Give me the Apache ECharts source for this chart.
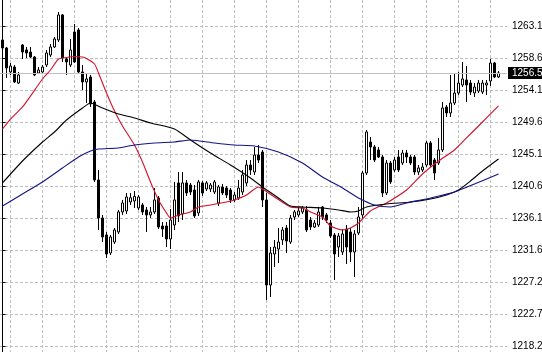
<!DOCTYPE html>
<html>
<head>
<meta charset="utf-8">
<script src="https://cdn.jsdelivr.net/npm/echarts@6/dist/echarts.min.js"></script>
<style>
html,body{margin:0;padding:0;background:#fff;}
#main{width:542px;height:352px;}
</style>
</head>
<body>
<div id="main"></div>
<script>
// right price scale
var priceTicks = [1218.20, 1222.70, 1227.20, 1231.60, 1236.10, 1240.60, 1245.10, 1249.60, 1254.10, 1258.60, 1263.10];
// bar numbers where the vertical grid lines fall
var timeTicks = [2, 10, 18, 26, 34, 42, 50, 58, 66, 74, 82, 90, 98, 106, 114, 122];

// candles, oldest first
var opens = [1261.14,1260.02,1256.65,1257.35,1255.10,1260.44,1259.74,1259.45,1258.75,1256.51,
1256.65,1257.63,1259.03,1260.16,1261.14,1264.65,1258.47,1257.63,1262.26,1262.54,
1256.65,1255.25,1255.95,1252.44,1241.50,1236.16,1233.78,1231.25,1232.79,1234.20,
1237.01,1237.15,1238.41,1238.55,1237.57,1237.99,1237.29,1236.59,1237.01,1238.97,
1235.04,1235.04,1233.22,1235.18,1241.08,1236.73,1241.08,1240.79,1240.09,1236.87,
1241.08,1240.23,1240.23,1239.81,1238.27,1240.51,1240.37,1240.09,1238.69,1238.97,
1239.81,1241.08,1243.60,1242.62,1245.00,1245.42,1238.69,1226.76,1231.11,1231.81,
1233.08,1234.76,1232.79,1236.30,1236.59,1237.01,1237.29,1235.88,1234.90,1235.18,
1237.71,1236.59,1235.46,1233.78,1232.09,1231.39,1234.62,1234.20,1231.39,1234.06,
1236.59,1242.48,1246.83,1246.13,1245.71,1244.72,1239.67,1243.88,1242.90,1244.72,
1243.88,1245.28,1244.72,1244.72,1242.62,1242.90,1243.60,1246.69,1244.30,1243.88,
1245.71,1251.74,1250.90,1252.30,1253.70,1254.82,1255.53,1255.10,1253.70,1253.98,
1253.84,1254.82,1255.39,1257.91,1255.95];
var closes = [1260.02,1257.21,1257.49,1255.25,1256.23,1259.45,1259.31,1258.75,1256.23,1256.93,
1257.35,1259.31,1260.16,1261.28,1264.65,1258.61,1258.05,1259.74,1258.05,1256.65,
1255.25,1255.67,1252.16,1241.50,1236.16,1233.50,1231.11,1233.50,1234.48,1237.01,
1238.27,1239.11,1239.00,1239.20,1239.11,1237.01,1236.59,1237.01,1238.69,1234.90,
1234.62,1233.22,1235.88,1238.69,1236.45,1241.08,1239.67,1239.81,1236.45,1241.22,
1239.67,1241.08,1240.79,1241.22,1240.51,1239.67,1239.39,1238.69,1239.39,1240.37,
1242.20,1243.60,1242.90,1245.00,1244.30,1238.69,1226.76,1231.25,1232.09,1232.79,
1234.48,1232.93,1236.16,1237.01,1237.15,1237.57,1234.48,1234.90,1235.46,1237.01,
1236.30,1235.88,1233.64,1231.11,1233.64,1233.92,1232.09,1231.39,1233.92,1236.30,
1242.48,1248.23,1246.13,1244.30,1244.72,1239.67,1243.88,1241.22,1244.30,1242.90,
1245.28,1244.72,1243.88,1242.62,1243.18,1243.32,1246.69,1243.60,1242.48,1245.71,
1251.60,1250.90,1252.30,1253.70,1255.10,1255.67,1254.82,1253.84,1254.54,1255.10,
1255.10,1255.10,1257.91,1255.95,1256.51];
var highs = [1262.26,1260.16,1257.91,1257.63,1256.65,1260.58,1260.16,1260.16,1258.89,1257.35,
1257.63,1259.74,1260.58,1261.56,1265.07,1264.79,1258.75,1261.28,1263.38,1262.82,
1257.63,1256.51,1256.23,1252.72,1242.90,1236.59,1234.20,1233.78,1234.76,1237.29,
1238.69,1239.67,1239.67,1239.95,1239.39,1238.27,1237.71,1237.71,1240.37,1239.25,
1235.60,1235.60,1237.43,1241.22,1242.62,1242.62,1241.50,1241.08,1240.79,1241.50,
1241.36,1241.36,1241.08,1241.50,1240.79,1240.94,1240.65,1240.37,1239.81,1241.50,
1242.90,1244.30,1244.30,1246.13,1246.41,1245.71,1239.67,1232.09,1233.08,1234.76,
1234.90,1235.18,1236.59,1237.29,1237.57,1237.85,1237.85,1236.30,1235.88,1237.71,
1237.85,1236.87,1235.88,1234.06,1234.06,1234.62,1235.18,1234.76,1234.48,1237.71,
1242.76,1248.51,1247.53,1246.41,1246.13,1245.00,1244.30,1244.16,1244.72,1245.71,
1245.71,1245.71,1245.00,1245.00,1243.60,1243.88,1246.97,1246.97,1244.58,1247.39,
1252.44,1252.02,1256.23,1256.51,1256.65,1258.05,1257.49,1255.53,1255.10,1255.53,
1255.53,1255.53,1258.47,1258.05,1256.79];
var lows = [1259.74,1255.81,1256.23,1255.10,1254.96,1258.47,1258.61,1258.61,1256.09,1256.37,
1256.51,1257.35,1258.75,1260.02,1260.86,1258.05,1256.23,1257.35,1257.91,1256.51,
1254.12,1252.30,1251.74,1241.22,1234.48,1232.79,1230.55,1230.97,1232.51,1233.92,
1236.59,1236.73,1237.99,1237.57,1237.29,1236.59,1234.20,1236.16,1236.73,1234.62,
1233.50,1232.09,1231.81,1234.48,1235.60,1235.88,1239.25,1239.39,1236.16,1236.45,
1239.25,1239.95,1239.81,1239.53,1237.85,1239.39,1238.97,1238.27,1238.41,1238.69,
1239.39,1240.65,1242.20,1242.20,1243.88,1237.71,1224.66,1225.08,1229.29,1229.85,
1232.38,1231.25,1232.51,1235.88,1236.30,1236.73,1234.20,1234.48,1234.76,1234.90,
1235.88,1235.46,1233.36,1227.47,1230.69,1230.97,1229.71,1229.99,1227.89,1233.78,
1236.16,1242.20,1244.30,1244.02,1244.58,1239.11,1239.39,1240.94,1242.62,1242.62,
1243.60,1243.88,1243.60,1242.20,1242.20,1242.62,1243.32,1243.32,1241.50,1243.60,
1245.42,1250.34,1250.34,1252.02,1253.42,1254.54,1252.44,1253.42,1253.14,1253.70,
1253.56,1253.42,1254.68,1255.81,1255.81];

// moving averages (bar number, price)
var redBars = [0,2,5,7,10,12,14,16,18,20,21,23,24,26,28,30,33,35,37,39,41,42,44,47,49,52,56,58,61,64,65,68,72,75,77,80,82,85,87,89,92,96,101,105,109,113,116,119,124];
var redVals = [1248.65,1250.05,1251.74,1253.28,1255.67,1256.93,1258.47,1258.68,1258.82,1258.75,1258.54,1257.77,1256.51,1253.70,1251.18,1249.07,1246.41,1244.02,1241.22,1238.69,1236.87,1236.16,1236.59,1237.01,1237.71,1237.99,1238.41,1238.69,1239.39,1240.51,1240.23,1239.11,1237.71,1237.57,1237.01,1236.30,1235.04,1234.48,1234.76,1235.46,1237.15,1238.27,1240.09,1242.34,1244.16,1245.71,1247.39,1249.07,1251.88];
var blackBars = [0,5,10,13,16,20,22,25,29,33,37,43,47,52,57,62,65,69,72,75,80,84,87,89,91,96,102,107,111,114,117,120,124];
var blackVals = [1241.08,1244.16,1246.83,1248.23,1249.91,1251.60,1252.30,1251.60,1250.76,1250.20,1249.49,1248.65,1247.11,1245.28,1243.60,1241.78,1240.51,1238.97,1237.85,1237.71,1237.57,1237.29,1237.01,1237.15,1237.71,1238.13,1238.41,1238.83,1239.39,1240.09,1241.36,1242.76,1244.44];
var blueBars = [0,5,10,15,19,22,24,29,33,38,43,47,53,58,63,69,75,80,85,89,93,97,101,107,113,118,124];
var blueVals = [1237.85,1239.53,1241.22,1243.18,1244.72,1245.57,1245.85,1245.99,1246.41,1246.69,1246.83,1247.11,1246.69,1246.41,1246.27,1245.42,1243.88,1241.92,1240.37,1238.97,1237.99,1237.71,1238.27,1238.97,1239.81,1240.94,1242.34];

var candles = opens.map(function (o, i) { return [i, o, closes[i], lows[i], highs[i]]; });
function pts(bars, vals) { return bars.map(function (b, k) { return [b, vals[k]]; }); }
function maLine(name, bars, vals, color) {
    return {
        name: name, type: 'line', data: pts(bars, vals),
        symbol: 'none', smooth: 0.2, z: 5,
        lineStyle: {color: color, width: 1.1}
    };
}

var chart = echarts.init(document.getElementById('main'));
chart.setOption({
    animation: false,
    backgroundColor: '#fff',
    grid: {left: 0, right: 35, top: 0, bottom: 0, containLabel: false, outerBoundsMode: 'none'},
    xAxis: {
        type: 'value', min: -0.625, max: 126.125,
        axisLine: {show: false},
        axisTick: {show: false, customValues: timeTicks},
        axisLabel: {show: false},
        splitLine: {show: true, lineStyle: {color: '#bdbdbd', type: [3, 2], width: 1}}
    },
    yAxis: {
        type: 'value', position: 'right', min: 1217.36, max: 1266.75, scale: true,
        axisLine: {show: true, lineStyle: {color: '#000', width: 1}},
        axisTick: {show: true, length: 3, customValues: priceTicks, lineStyle: {color: '#000'}},
        axisLabel: {
            customValues: priceTicks, margin: 5, color: '#000', fontSize: 10,
            fontFamily: 'Liberation Sans, Arial, sans-serif',
            formatter: function (v) { return v.toFixed(2); }
        },
        splitLine: {show: true, lineStyle: {color: '#bdbdbd', type: [3, 2], width: 1}}
    },
    series: [
        {
            name: 'price', type: 'candlestick', data: candles,
            encode: {x: 0, y: [1, 2, 3, 4]},
            barWidth: 3,
            itemStyle: {color: '#fff', color0: '#000', borderColor: '#000', borderColor0: '#000', borderWidth: 1},
            markLine: {
                silent: true, symbol: 'none',
                lineStyle: {color: '#c0c0c0', type: 'solid', width: 1},
                label: {
                    show: true, position: 'end', distance: 1,
                    color: '#fff', backgroundColor: '#000', padding: [1, 4, 1, 4],
                    fontSize: 10, fontFamily: 'Liberation Sans, Arial, sans-serif',
                    formatter: function (p) { return p.value.toFixed(2); }
                },
                data: [{yAxis: closes[closes.length - 1]}]
            }
        },
        maLine('MA fast', redBars, redVals, '#d4102a'),
        maLine('MA mid', blackBars, blackVals, '#000'),
        maLine('MA slow', blueBars, blueVals, '#141488')
    ]
});
</script>
</body>
</html>
